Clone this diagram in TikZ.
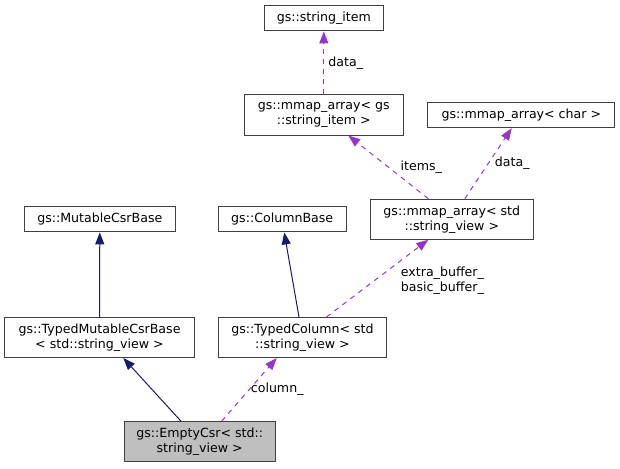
\documentclass[tikz,border=0pt]{standalone}
\usepackage{fontspec}
\setmainfont{DejaVu Sans}
\usetikzlibrary{arrows.meta}
\definecolor{edgeblue}{HTML}{191970}
\definecolor{edgepurple}{HTML}{9A32CD}
\definecolor{boxgray}{HTML}{BFBFBF}

\begin{document}
\begin{tikzpicture}
    [x=1pt,y=-1pt,
     every node/.style={font=\fontsize{12.6}{15}\selectfont},
     cls/.style={draw=black!75,line width=1pt,rectangle,align=center,inner sep=0pt,minimum height=#1},
     cls/.default=25pt,
     inherit/.style={draw=edgeblue,line width=1pt,-{Triangle[length=12pt,width=9pt]}},
     member/.style={draw=edgepurple,line width=1pt,dash pattern=on 5pt off 5pt,-{Triangle[length=12pt,width=9pt]}}]
    \useasboundingbox (0,0) rectangle (620,468);
    \node[cls, minimum width=119pt] (stritem) at (323.8,18.5) {gs::string\_item};
    \node[cls=40pt, minimum width=159pt] (mmstr) at (323.8,115) {gs::mmap\_array< gs\\::string\_item >};
    \node[cls, minimum width=187pt] (mmchar) at (521.3,115.2) {gs::mmap\_array< char >};
    \node[cls=40pt, minimum width=163pt] (mmsv) at (451.8,219.2) {gs::mmap\_array< std\\::string\_view >};
    \node[cls, minimum width=128pt] (colbase) at (282.2,219.4) {gs::ColumnBase};
    \node[cls, minimum width=151pt] (mutbase) at (99.8,219.4) {gs::MutableCsrBase};
    \node[cls=40pt, minimum width=190pt] (tmcb) at (99.5,337.5) {gs::TypedMutableCsrBase\\< std::string\_view >};
    \node[cls=40pt, minimum width=168pt] (tcol) at (302.5,337.5) {gs::TypedColumn< std\\::string\_view >};
    \node[cls=40pt, minimum width=151pt, fill=boxgray] (empty) at (199.7,441.7) {gs::EmptyCsr< std::\\string\_view >};

    % inheritance
    \draw[inherit] (tmcb.north) -- (mutbase.south);
    \draw[inherit] ([xshift=-3.5pt]tcol.north) -- ([xshift=2pt]colbase.south);
    \draw[inherit] ([xshift=-18.7pt]empty.north) -- ([xshift=23.8pt]tmcb.south);

    % members
    \draw[member] ([xshift=22pt]empty.north) -- ([xshift=-25.8pt]tcol.south)
      node[draw=none,pos=0.5,xshift=28pt] (lcol) {column\_};
    \draw[member] ([xshift=24pt]tcol.north) -- ([xshift=-23.5pt]mmsv.south)
      node[draw=none,pos=0.5,align=center,xshift=65pt,yshift=-2pt] (lbuf) {extra\_buffer\_\\basic\_buffer\_};
    \draw[member] ([xshift=-23.5pt]mmsv.north) -- ([xshift=24.5pt]mmstr.south)
      node[draw=none,pos=0.5,xshift=33pt] (litems) {items\_};
    \draw[member] ([xshift=13pt]mmsv.north) -- ([xshift=-9.6pt]mmchar.south)
      node[draw=none,pos=0.5,xshift=24pt] (ldata) {data\_};
    \draw[member] (mmstr.north) -- (stritem.south)
      node[draw=none,pos=0.5,xshift=22pt] (ldatb) {data\_};
\end{tikzpicture}
\end{document}
